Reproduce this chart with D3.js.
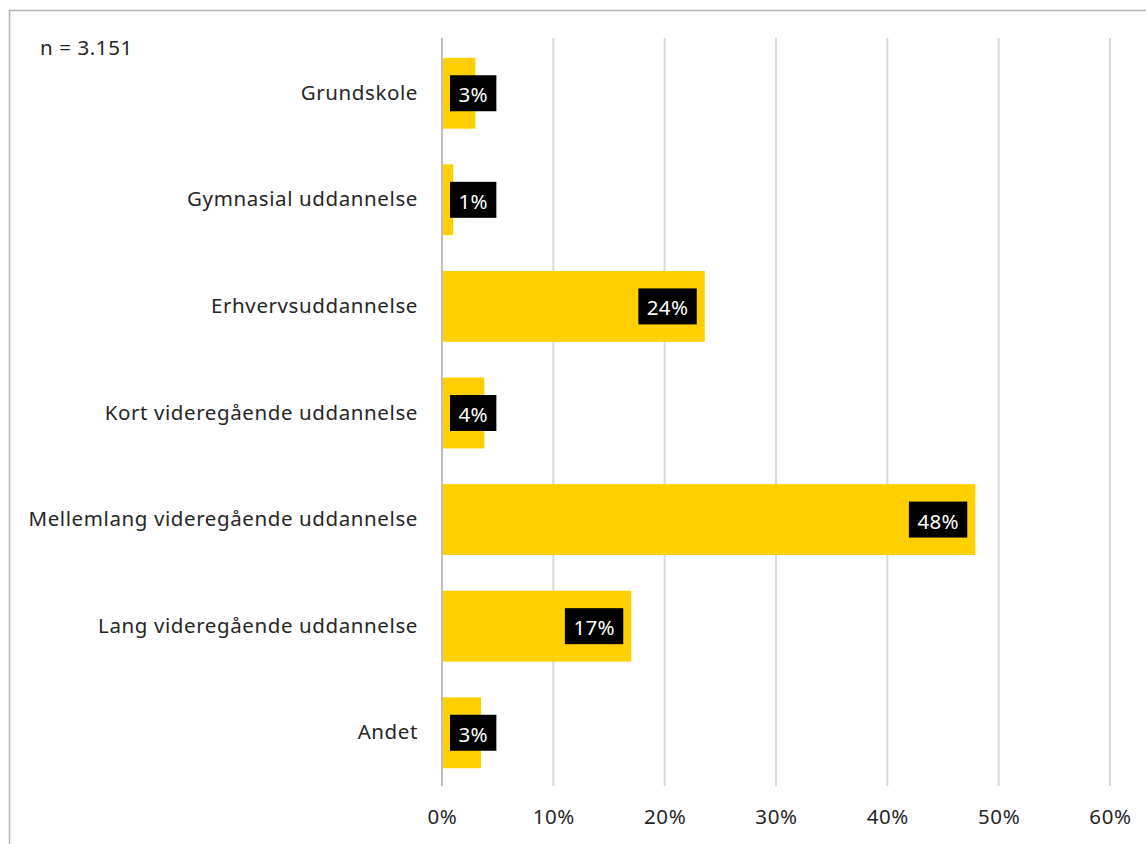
<!DOCTYPE html>
<html><head><meta charset="utf-8">
<script src="https://cdn.jsdelivr.net/npm/d3@7"></script>
<style>body{margin:0;background:#fff}svg{display:block}text{font-family:"Noto Sans",sans-serif}</style>
</head><body>
<script>
const categories = ["Grundskole","Gymnasial uddannelse","Erhvervsuddannelse","Kort videregående uddannelse","Mellemlang videregående uddannelse","Lang videregående uddannelse","Andet"];
const values = [3.0, 1.0, 23.6, 3.8, 47.9, 17.0, 3.5];
const valueLabels = ["3%","1%","24%","4%","48%","17%","3%"];
const ticks = [0,10,20,30,40,50,60];
const note = "n = 3.151";

(function(){
const W=1146,H=844, FS=20.5, LS="0.6px";
const svg=d3.select("body").append("svg").attr("width",W).attr("height",H);
svg.append("rect").attr("x",9.5).attr("y",10.5).attr("width",W+20).attr("height",H+20)
  .attr("fill","none").attr("stroke","#b3b3b3").attr("stroke-width",1.5);

const x=d3.scaleLinear().domain([0,60]).range([442,1110]);
const y=d3.scaleBand().domain(categories).range([40,786]).paddingInner(0.335).paddingOuter(0.167);
const yTop=38,yBottom=786;

svg.append("g").selectAll("line").data(ticks.slice(1)).join("line")
  .attr("x1",d=>x(d)).attr("x2",d=>x(d)).attr("y1",yTop).attr("y2",yBottom)
  .attr("stroke","#d9d9d9").attr("stroke-width",2);

svg.append("g").selectAll("rect").data(categories).join("rect")
  .attr("x",x(0)).attr("y",d=>y(d)).attr("height",y.bandwidth())
  .attr("width",(d,i)=>x(values[i])-x(0)).attr("fill","#ffcf00");

svg.append("line").attr("x1",x(0)).attr("x2",x(0)).attr("y1",yTop).attr("y2",yBottom)
  .attr("stroke","#bfbfbf").attr("stroke-width",2);

const xa=d3.axisBottom(x).tickValues(ticks).tickFormat(d=>d+"%").tickSize(0).tickPadding(0);
const gx=svg.append("g").attr("transform","translate(0,809)").call(xa);
gx.select(".domain").remove();
gx.selectAll("text").attr("font-size",FS).attr("letter-spacing",LS).attr("fill","#262626").attr("font-family","Noto Sans, sans-serif");

const ya=d3.axisLeft(y).tickSize(0).tickPadding(0);
const gy=svg.append("g").attr("transform","translate(418,0)").call(ya);
gy.select(".domain").remove();
gy.selectAll("text").attr("font-size",FS).attr("letter-spacing",LS).attr("fill","#262626").attr("font-family","Noto Sans, sans-serif");

const lab=svg.append("g");
categories.forEach((c,i)=>{
  const g=lab.append("g");
  const r=g.append("rect").attr("fill","#000");
  const t=g.append("text").text(valueLabels[i]).attr("font-size",FS).attr("letter-spacing","0.3px").attr("fill","#fff")
    .attr("text-anchor","middle").attr("dominant-baseline","central");
  const tw=t.node().getComputedTextLength();
  const bw=tw+17, bh=36;
  const right=Math.max(x(values[i])-8, x(0)+8+bw);
  const cy=y(c)+y.bandwidth()/2;
  r.attr("x",right-bw).attr("y",cy-bh/2).attr("width",bw).attr("height",bh);
  t.attr("x",right-bw/2).attr("y",cy+1);
});

svg.append("text").attr("x",40).attr("y",55).attr("font-size",FS).attr("letter-spacing",LS).attr("fill","#262626").text(note);
})();
</script>
</body></html>
